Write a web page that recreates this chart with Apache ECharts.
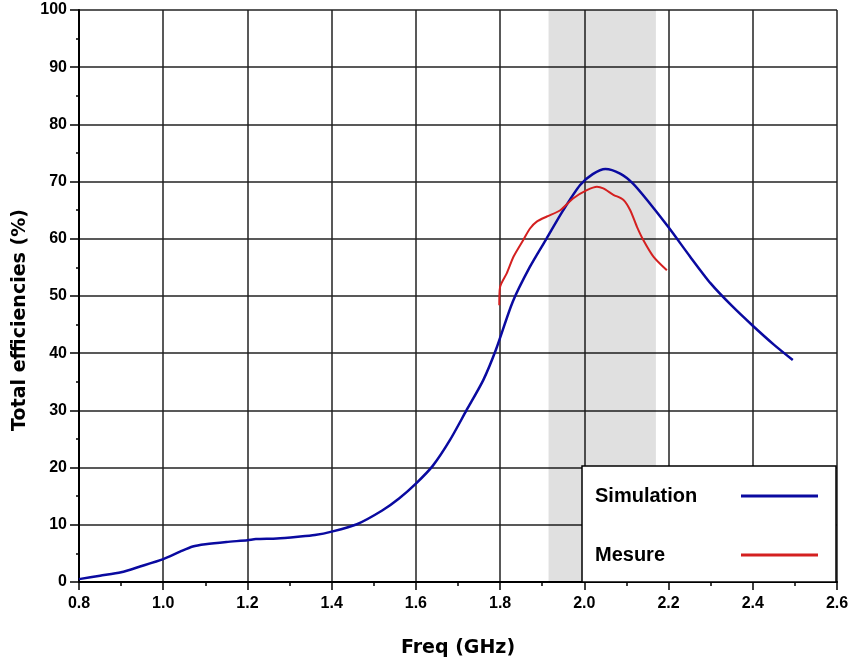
<!DOCTYPE html>
<html>
<head>
<meta charset="utf-8">
<script src="https://cdn.jsdelivr.net/npm/echarts@6/dist/echarts.min.js"></script>
<style>
html,body{margin:0;padding:0;background:#fff;}
#chart{width:852px;height:663px;}
</style>
</head>
<body>
<div id="chart"></div>
<script>
// Simulation curve
var simFreq = [0.80,0.85,0.90,0.945,1.00,1.04,1.07,1.10,1.15,1.20,1.22,1.27,1.32,1.36,1.40,1.46,1.52,1.56,1.60,1.64,1.68,1.72,1.76,1.79,1.83,1.87,1.91,1.95,1.99,2.02,2.05,2.085,2.115,2.15,2.20,2.25,2.30,2.35,2.40,2.45,2.495];
var simEff  = [0.5,1.1,1.7,2.7,4.0,5.3,6.2,6.6,7.0,7.3,7.5,7.6,7.9,8.2,8.8,10.1,12.5,14.6,17.2,20.3,24.7,30.0,35.3,40.6,49.0,55.0,60.0,65.0,69.4,71.3,72.2,71.4,69.7,66.7,62.0,57.0,52.2,48.3,44.8,41.5,38.8];
// Measured curve
var mesFreq = [1.798,1.80,1.816,1.832,1.855,1.871,1.887,1.911,1.943,1.974,2.006,2.03,2.045,2.069,2.093,2.109,2.125,2.14,2.164,2.196];
var mesEff  = [48.4,51.6,54.0,56.9,59.8,61.8,63.0,63.9,65.0,67.1,68.5,69.1,68.8,67.7,66.8,65.0,62.1,59.8,56.9,54.5];
// Shaded band (GHz)
var bandRange = [1.915, 2.17];
var seriesNames = ['Simulation', 'Mesure'];
var xTitle = 'Freq (GHz)';
var yTitle = 'Total efficiencies (%)';

function zip(a, b){ return a.map(function(v,i){ return [v, b[i]]; }); }

var chart = echarts.init(document.getElementById('chart'), null, {renderer:'canvas'});
var labelFont = {color:'#000', fontFamily:'Liberation Sans, Arial, sans-serif', fontWeight:'bold', fontSize:16};
chart.setOption({
  animation:false,
  backgroundColor:'#fff',
  grid:{left:79, right:15, top:10, bottom:81, containLabel:false},
  xAxis:{
    type:'value', min:0.8, max:2.6, interval:0.2,
    name:xTitle, nameLocation:'middle', nameGap:57,
    nameTextStyle:{color:'#000', fontFamily:'DejaVu Sans, sans-serif', fontWeight:'bold', fontSize:19},
    axisLine:{show:true, onZero:false, lineStyle:{color:'#000', width:2}},
    axisTick:{show:true, inside:false, length:8, lineStyle:{color:'#000', width:1.5}},
    minorTick:{show:true, splitNumber:2, length:4, lineStyle:{color:'#000', width:1.5}},
    axisLabel:Object.assign({margin:14, formatter:function(v){return v.toFixed(1);}}, labelFont),
    splitLine:{show:true, lineStyle:{color:'#222', width:1.5}}
  },
  yAxis:{
    type:'value', min:0, max:100, interval:10,
    name:yTitle, nameLocation:'middle', nameGap:37,
    nameTextStyle:{color:'#000', fontFamily:'DejaVu Sans, sans-serif', fontWeight:'bold', fontSize:19, padding:[0,48,0,0]},
    axisLine:{show:true, onZero:false, lineStyle:{color:'#000', width:2}},
    axisTick:{show:true, inside:false, length:9, lineStyle:{color:'#000', width:1.5}},
    minorTick:{show:true, splitNumber:2, length:3, lineStyle:{color:'#000', width:1.5}},
    axisLabel:Object.assign({margin:12}, labelFont),
    splitLine:{show:true, lineStyle:{color:'#222', width:1.5}}
  },
  legend:{
    show:true, orient:'vertical', left:582, top:466, align:'right',
    backgroundColor:'#fff', borderColor:'#000', borderWidth:1.5, borderRadius:0,
    padding:[20,18,17,13], itemGap:39, itemWidth:77, itemHeight:3,
    icon:'rect',
    formatter:function(n){ return '{a|' + n + '}'; },
    textStyle:{color:'#000', fontFamily:'Liberation Sans, Arial, sans-serif', fontWeight:'bold', fontSize:20,
      rich:{a:{width:141, height:20, color:'#000', fontFamily:'Liberation Sans, Arial, sans-serif', fontWeight:'bold', fontSize:20, align:'left'}}},
    data:[seriesNames[0], seriesNames[1]],
    selectedMode:false
  },
  series:[
    {
      name:seriesNames[0], type:'line', data:zip(simFreq, simEff), symbol:'none', smooth:0.25,
      lineStyle:{color:'#0a0aa0', width:2.5}, itemStyle:{color:'#0a0aa0'}, z:3,
      markArea:{silent:true, itemStyle:{color:'rgba(0,0,0,0.12)'}, data:[[{xAxis:bandRange[0]},{xAxis:bandRange[1]}]]}
    },
    {
      name:seriesNames[1], type:'line', data:zip(mesFreq, mesEff), symbol:'none', smooth:0.25,
      lineStyle:{color:'#d42020', width:2}, itemStyle:{color:'#d42020'}, z:4
    }
  ]
});
</script>
</body>
</html>
